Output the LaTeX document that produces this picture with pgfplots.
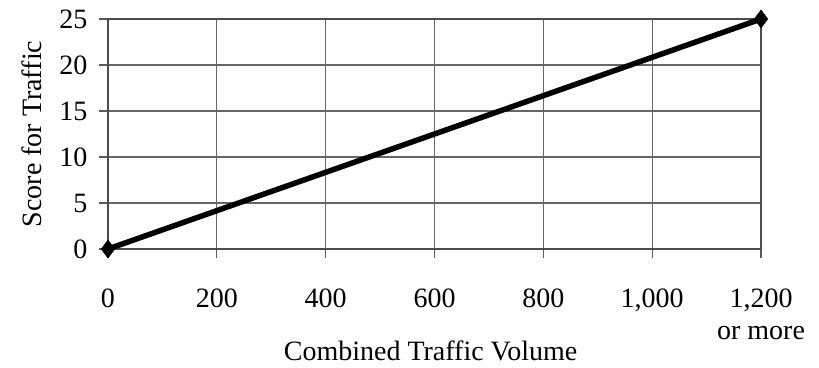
\documentclass[border=0pt]{standalone}
\usepackage{pgfplots}
\pgfplotsset{compat=1.18}
\usepackage{fontspec}
\setmainfont{Liberation Serif}
\begin{document}
\begin{tikzpicture}[x=1pt,y=1pt]
\begin{axis}[
  at={(0pt,0pt)}, anchor=south west,
  scale only axis,
  width=653pt, height=230pt,
  xmin=0, xmax=1200, ymin=0, ymax=25,
  xtick={0,200,400,600,800,1000,1200},
  xticklabels={0,200,400,600,800,{1,000},{1,200\\or more}},
  ytick={0,5,10,15,20,25},
  xtick pos=bottom, ytick pos=left,
  tick align=outside,
  major tick length=9pt,
  grid=major,
  grid style={gray!80!black, line width=1.1pt},
  axis line style={gray!60!black, line width=1.4pt},
  every tick/.style={gray!70!black, line width=1.1pt},
  xticklabel style={align=center, anchor=north, yshift=-27pt, font=\fontsize{28}{32}\selectfont},
  yticklabel style={xshift=-8pt, font=\fontsize{28}{31}\selectfont},
  xlabel={Combined Traffic Volume},
  ylabel={Score for Traffic},
  xlabel style={at={(axis description cs:0.494,-0.4826)}, anchor=base, inner sep=0pt, font=\fontsize{28}{31}\selectfont},
  ylabel style={at={(axis description cs:-0.1164,0.5)}, anchor=center, font=\fontsize{28}{31}\selectfont},
  clip=false,
  /pgf/number format/assume math mode=true,
]
\addplot[black, line width=5.5pt, mark=diamond*, mark size=9pt, mark options={line width=0.5pt}]
  coordinates {(0,0) (1200,25)};
\end{axis}
\path[use as bounding box] (-108pt,-118pt) rectangle (711pt,249pt);
\end{tikzpicture}
\end{document}
